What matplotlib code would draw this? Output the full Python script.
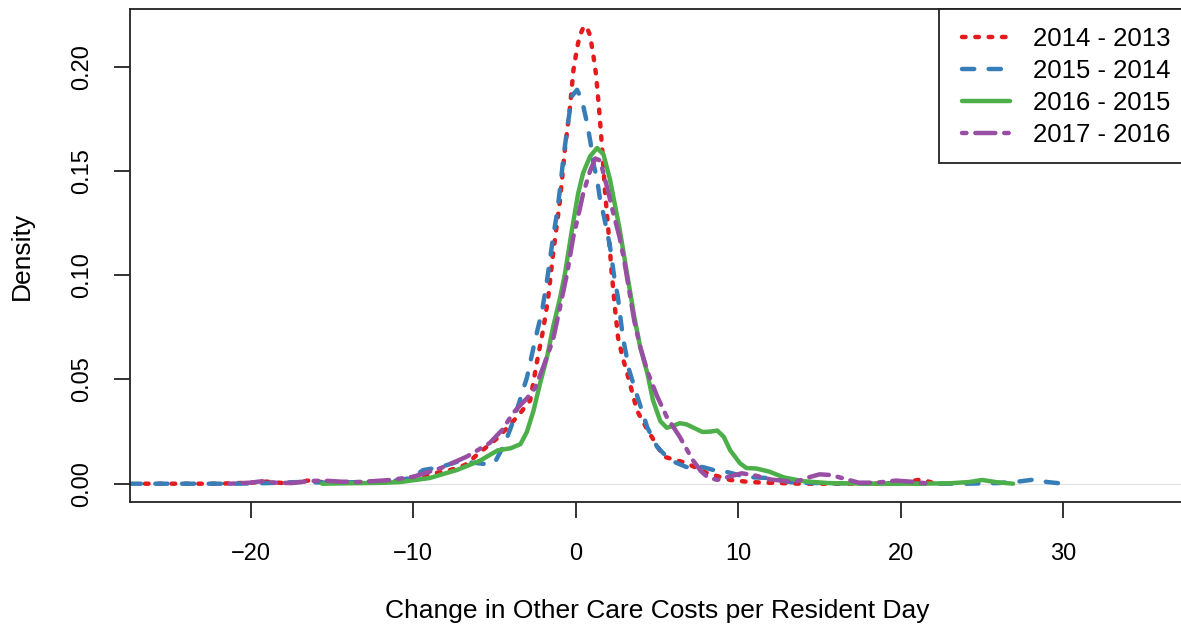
import matplotlib
matplotlib.use("Agg")
import matplotlib.pyplot as plt
from matplotlib.patches import Rectangle

# Kernel density estimates of year-over-year change in other care costs
series_labels = ["2014 - 2013", "2015 - 2014", "2016 - 2015", "2017 - 2016"]
series_colors = ["#E41A1C", "#377EB8", "#4DAF4A", "#984EA3"]

x_2014 = [-26.5, -24, -22, -20, -19, -18, -17, -16.5, -16, -15, -14, -13, -12, -11,
          -10.2, -9, -7.7, -6.8, -5.9, -4.8, -4.2, -3.5, -2.8, -2.4, -2.0, -1.7, -1.4,
          -0.97, -0.66, -0.35, -0.15, 0.08, 0.25, 0.45, 0.65, 0.88, 1.07, 1.25, 1.44,
          1.62, 1.8, 2.0, 2.2, 2.4, 2.6, 2.9, 3.16, 3.77, 4.4, 5.4, 6.8, 8.1, 9.5,
          10.7, 12, 14, 16, 18, 20, 21.2, 22.2]
y_2014 = [0, 0, 0, 0.0005, 0.001, 0.0003, 0.0005, 0.0015, 0.001, 0.0005, 0.0008,
          0.0005, 0.0008, 0.0015, 0.003, 0.0045, 0.0066, 0.009, 0.015, 0.022, 0.027,
          0.033, 0.040, 0.058, 0.074, 0.089, 0.110, 0.136, 0.161, 0.181, 0.198, 0.209,
          0.215, 0.2185, 0.2195, 0.215, 0.206, 0.196, 0.179, 0.161, 0.140, 0.122,
          0.102, 0.085, 0.070, 0.060, 0.053, 0.035, 0.026, 0.013, 0.0099, 0.005,
          0.0018, 0.0008, 0.0004, 0, 0, 0, 0.0003, 0.002, 0]

x_2015 = [-27.5, -25, -23, -21, -19, -17, -15, -13, -11, -10, -9.4, -8.3, -7.3, -6.2,
          -5.3, -4.96, -4.35, -3.85, -3.5, -3.0, -2.5, -2.07, -1.76, -1.4, -1.15,
          -0.96, -0.78, -0.5, -0.23, 0.08, 0.38, 0.69, 0.9, 1.07, 1.31, 1.5, 1.74,
          2.1, 2.35, 2.6, 2.9, 3.3, 3.8, 4.4, 5.0, 5.8, 6.8, 7.8, 8.5, 9.3, 10.5,
          11.9, 13.4, 16, 20, 24, 26, 27.2, 28.2, 29, 30]
y_2015 = [0, 0, 0, 0, 0.0003, 0.0008, 0.0005, 0.0008, 0.0015, 0.003, 0.0065, 0.008,
          0.0105, 0.010, 0.0092, 0.0105, 0.0195, 0.030, 0.0385, 0.051, 0.069, 0.083,
          0.098, 0.118, 0.130, 0.142, 0.155, 0.172, 0.186, 0.1889, 0.184, 0.173,
          0.164, 0.154, 0.146, 0.136, 0.128, 0.114, 0.100, 0.089, 0.070, 0.054,
          0.0415, 0.027, 0.0177, 0.0113, 0.008, 0.008, 0.0065, 0.0056, 0.0032,
          0.0027, 0.0005, 0.0002, 0, 0, 0.0003, 0.001, 0.002, 0.0008, 0]

x_2016 = [-15.6, -14, -12, -10.8, -9.0, -7.3, -5.9, -4.8, -4.0, -3.4, -3.0, -2.6,
          -2.2, -1.76, -1.4, -0.97, -0.66, -0.23, 0.14, 0.45, 0.88, 1.31, 1.7, 2.1,
          2.4, 2.7, 3.0, 3.3, 3.6, 3.95, 4.4, 4.75, 5.2, 5.6, 6.0, 6.4, 6.8, 7.2,
          7.8, 8.3, 8.7, 9.1, 9.5, 10.1, 10.5, 11.1, 11.9, 12.8, 14, 15.5, 18, 21,
          23, 24.2, 25, 25.8, 26.9]
y_2016 = [0, 0.0002, 0.0004, 0.0008, 0.0027, 0.0066, 0.011, 0.016, 0.017, 0.019,
          0.025, 0.035, 0.048, 0.061, 0.075, 0.089, 0.101, 0.122, 0.139, 0.149,
          0.157, 0.161, 0.158, 0.146, 0.134, 0.122, 0.108, 0.094, 0.080, 0.066,
          0.053, 0.040, 0.030, 0.0268, 0.0278, 0.029, 0.0285, 0.027, 0.0248, 0.025,
          0.0255, 0.0225, 0.016, 0.0098, 0.0075, 0.0073, 0.0058, 0.003, 0.0012,
          0.0003, 0, 0, 0.0002, 0.0008, 0.0018, 0.0008, 0]

x_2017 = [-21.3, -20, -19.3, -18.5, -17.5, -16.5, -15.5, -14.5, -13.5, -12.5, -11.4,
          -10.0, -8.3, -6.7, -5.3, -4.5, -3.85, -3.0, -2.5, -2.0, -1.4, -0.96, -0.53,
          -0.16, 0.14, 0.45, 0.88, 1.2, 1.5, 1.93, 2.3, 2.7, 3.0, 3.3, 3.6, 3.95,
          4.4, 5.0, 5.6, 6.4, 7.2, 7.7, 8.1, 8.7, 9.5, 10.2, 11, 12, 13.5, 14.3, 15,
          15.6, 16.1, 17.4, 18.5, 19.7, 20.6, 21.8]
y_2017 = [0, 0.0005, 0.0012, 0.0005, 0.0003, 0.0012, 0.0015, 0.001, 0.0008, 0.0012,
          0.0018, 0.0033, 0.0075, 0.013, 0.0195, 0.026, 0.034, 0.041, 0.046, 0.056,
          0.069, 0.085, 0.101, 0.118, 0.128, 0.139, 0.150, 0.156, 0.155, 0.142,
          0.130, 0.118, 0.106, 0.092, 0.078, 0.066, 0.054, 0.042, 0.032, 0.0224,
          0.0113, 0.006, 0.0032, 0.0018, 0.0035, 0.005, 0.004, 0.002, 0.0008, 0.003,
          0.0045, 0.0042, 0.0033, 0.0005, 0.0005, 0.0015, 0.001, 0]

x_ticks = [-20, -10, 0, 10, 20, 30]
y_ticks = [0.00, 0.05, 0.10, 0.15, 0.20]

xs = [x_2014, x_2015, x_2016, x_2017]
ys = [y_2014, y_2015, y_2016, y_2017]
# dash patterns in units of line width: dotted, dashed, solid, two-dash
dash_styles = [(0.8, 2.2), (2.75, 3.25), None, (1.0, 2.0, 4.5, 2.0)]

plt.rcParams["font.family"] = ["Liberation Sans", "DejaVu Sans"]

W, H = 1181, 630
fig = plt.figure(figsize=(W / 100, H / 100), dpi=100)
ax = fig.add_axes([130 / W, 128 / H, 1053.8 / W, 493 / H])

ax.axhline(0, color="#e3e3e3", lw=0.8, zorder=1)

for x, y, c, d, lab in zip(xs, ys, series_colors, dash_styles, series_labels):
    line, = ax.plot(x, y, color=c, lw=3.2, label=lab, zorder=2,
                    solid_capstyle="round", dash_capstyle="round",
                    solid_joinstyle="round")
    if d is not None:
        line.set_dashes(d)

ax.set_xlim(-27.42, 37.4)
ax.set_ylim(-0.008777, 0.22767)
ax.set_xticks(x_ticks)
ax.set_xticklabels([f"{v:d}".replace("-", "\u2212") for v in x_ticks])
ax.set_yticks(y_ticks)
ax.set_yticklabels([f"{v:.2f}" for v in y_ticks])

for s in ax.spines.values():
    s.set_color("#222222")
    s.set_linewidth(1.3)

ax.tick_params(axis="both", direction="out", length=11.5, width=1.3,
               color="#222222", labelsize=17, labelcolor="black")
ax.tick_params(axis="x", pad=18)
ax.tick_params(axis="y", pad=15)
for t in ax.get_yticklabels():
    t.set_rotation(90)
    t.set_va("center")
    t.set_ha("right")

ax.set_xlabel("Change in Other Care Costs per Resident Day", fontsize=19)
ax.xaxis.set_label_coords(0.5, -0.222)
ax.xaxis.label.set_va("center")
ax.set_ylabel("Density", fontsize=19)
ax.yaxis.set_label_coords(-0.1025, 0.5)
ax.yaxis.label.set_va("center")

# legend box drawn as a figure-level frame, entries laid out inside it
fig.patches.append(Rectangle((939 / W, (H - 163) / H), 260 / W, 154 / H,
                             transform=fig.transFigure, fill=True,
                             facecolor="white", edgecolor="#222222", lw=1.3,
                             zorder=5))
leg = fig.legend(loc="upper left", bbox_to_anchor=(962 / W, (H - 27) / H),
                 bbox_transform=fig.transFigure, frameon=False, fontsize=18.5,
                 handlelength=1.87, handletextpad=0.9, labelspacing=0.31,
                 borderpad=0, borderaxespad=0)
leg.set_zorder(6)

fig.savefig("out.png", dpi=100)
